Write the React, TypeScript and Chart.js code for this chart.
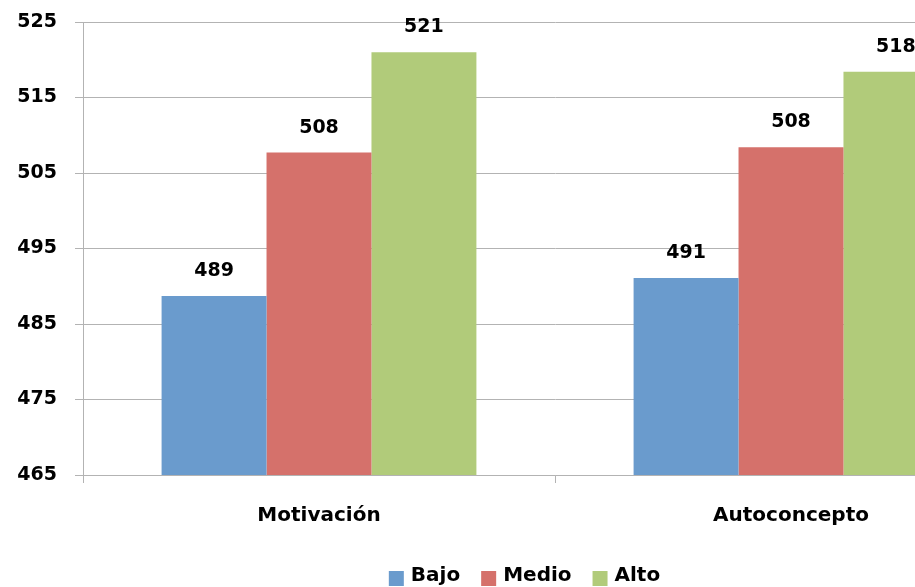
import React, { useEffect, useRef } from "react";
import { Chart, registerables } from "chart.js";

Chart.register(...registerables);

// Categories and series
const categories = ["Motivación", "Autoconcepto"];
const seriesNames = ["Bajo", "Medio", "Alto"];
const bajo = [488.7, 491.1];
const medio = [507.7, 508.4];
const alto = [521.0, 518.4];
const seriesColors = ["#6a9bcd", "#d5716b", "#b1cb7a"];
const yMin = 465;
const yMax = 525;
const yStep = 10;

const FONT = "'DejaVu Sans', sans-serif";

// Prints the rounded value above each bar
const valueLabels = {
  id: "valueLabels",
  afterDatasetsDraw(chart: any) {
    const { ctx } = chart;
    ctx.save();
    ctx.font = `bold 19px ${FONT}`;
    ctx.fillStyle = "#000";
    ctx.textAlign = "center";
    ctx.textBaseline = "middle";
    chart.data.datasets.forEach((ds: any, i: number) => {
      const meta = chart.getDatasetMeta(i);
      meta.data.forEach((bar: any, j: number) => {
        ctx.fillText(String(Math.round(ds.data[j])), bar.x, bar.y - 25);
      });
    });
    ctx.restore();
  },
};

// Series key centred under the whole canvas
const bottomLegend = {
  id: "bottomLegend",
  afterDraw(chart: any) {
    const { ctx } = chart;
    const box = 15;
    const gap = 7;
    const spacing = 21;
    const textY = 576;
    ctx.save();
    ctx.font = `bold 20px ${FONT}`;
    ctx.textBaseline = "middle";
    ctx.textAlign = "left";
    const items = chart.data.datasets.map((ds: any) => ({
      label: ds.label,
      color: ds.backgroundColor,
      w: ctx.measureText(ds.label).width,
    }));
    const total =
      items.reduce((s: number, it: any) => s + box + gap + it.w, 0) +
      spacing * (items.length - 1);
    let x = chart.width / 2 - total / 2;
    items.forEach((it: any) => {
      ctx.fillStyle = it.color;
      ctx.fillRect(x, textY - 5, box, box);
      ctx.fillStyle = "#000";
      ctx.fillText(it.label, x + box + gap, textY);
      x += box + gap + it.w + spacing;
    });
    ctx.restore();
  },
};

export default function App() {
  const ref = useRef<HTMLCanvasElement>(null);

  useEffect(() => {
    if (!ref.current) return;
    const chart = new Chart(ref.current, {
      type: "bar",
      data: {
        labels: categories,
        datasets: [bajo, medio, alto].map((d, i) => ({
          label: seriesNames[i],
          data: d,
          backgroundColor: seriesColors[i],
          borderWidth: 0,
          barPercentage: 1,
          categoryPercentage: 0.667,
        })),
      },
      options: {
        responsive: false,
        animation: false,
        layout: { padding: { top: 22, right: 22, left: 0, bottom: 0 } },
        plugins: {
          tooltip: { enabled: false },
          legend: { display: false },
        },
        scales: {
          x: {
            offset: true,
            grid: {
              offset: true,
              drawOnChartArea: false,
              drawTicks: true,
              tickLength: 8,
              color: "#b3b3b3",
            },
            border: { color: "#b3b3b3" },
            ticks: {
              color: "#000",
              padding: 21,
              font: { family: FONT, size: 20, weight: "bold" },
            },
            afterFit(scale: any) {
              scale.height = 112;
            },
          },
          y: {
            min: yMin,
            max: yMax,
            grid: { color: "#b3b3b3", tickLength: 8 },
            border: { color: "#b3b3b3" },
            ticks: {
              stepSize: yStep,
              color: "#000",
              padding: 18,
              font: { family: FONT, size: 19, weight: "bold" },
            },
            afterFit(scale: any) {
              scale.width = 83;
              scale.paddingTop = 0;
              scale.paddingBottom = 0;
            },
          },
        },
      },
      plugins: [valueLabels, bottomLegend],
    });
    return () => chart.destroy();
  }, []);

  return (
    <div
      style={{
        position: "absolute",
        left: 0,
        top: 0,
        width: 915,
        height: 587,
        overflow: "hidden",
        background: "#fff",
      }}
    >
      <canvas ref={ref} width={1049} height={587} style={{ display: "block" }} />
    </div>
  );
}
